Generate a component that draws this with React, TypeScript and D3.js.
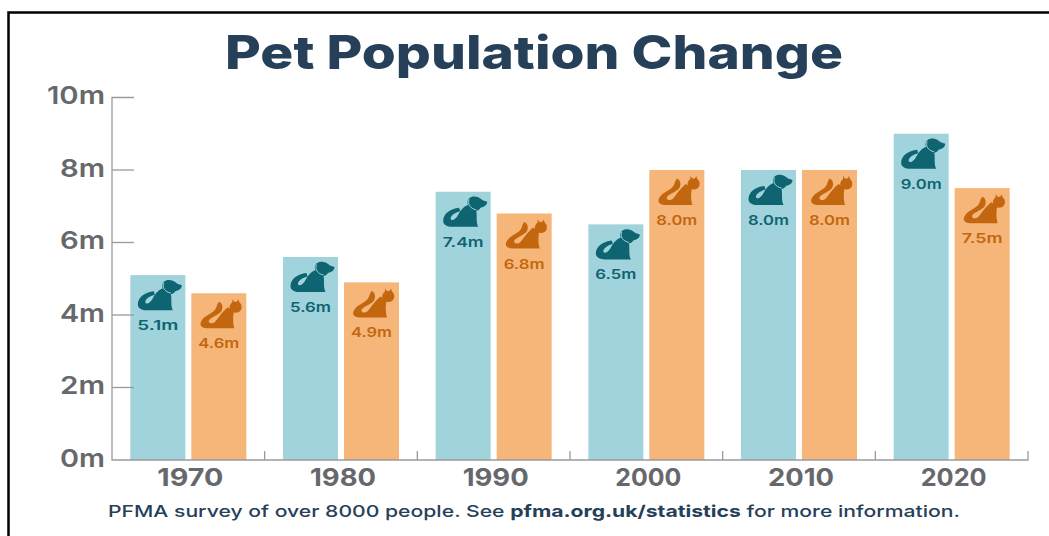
import React from "react";
import * as d3 from "d3";

const years = ["1970", "1980", "1990", "2000", "2010", "2020"];
const dogs = [5.1, 5.6, 7.4, 6.5, 8.0, 9.0];
const cats = [4.6, 4.9, 6.8, 8.0, 8.0, 7.5];
const yTicks = [0, 2, 4, 6, 8, 10];

const W = 1049, H = 536;
const x = d3.scaleBand<string>().domain(years).range([112, 1028]);
const y = d3.scaleLinear().domain([0, 10]).range([460, 97.5]);
const barW = 55, gap = 6;
const axisCol = "#9a9a9a", textCol = "#66686c", navy = "#264059";
const dogCol = "#0f6471", catCol = "#c2670f", dogBar = "#a0d3dc", catBar = "#f7b679";
const font = "Inter, 'Noto Sans', sans-serif";

const dogBody = "M-4 16 C-13 17 -20 22 -20 29 C-20 33 -16 35 -11 35 L15 35 L14 32.5 C13 28 14 23 13 18 L5 13 C0 15 -3 19 -5 23 C-7 27 -10 29 -12 28 C-14 26 -10 21 -3 19.5 Z";
const dogHead = "M4.5 12 C3.5 6 9 4 13 5 C16 5.5 18 7 19.5 8.5 L24 10 C24 13.5 21 15 17.5 16 C16 18.5 13 19.5 11 18.5 C8 17.5 5.5 15 4.5 12 Z";
const dogCollar = "M6 7.5 C4 12 7 17 13 18";
const catBody = "M0 8.5 C3 9.5 4.5 13 3 17 C1.5 21 -6 23 -9 26 C-11 28 -10 30 -7 30 C-5 30 -3 28 -1 25 C2 21 5 17 9 14 L15 18 C14 24 14 29 15 33 L15.5 35 L-12 35 C-18 35 -20 31 -17 27 C-14 22 -6 20 -3.5 16 C-2 13.5 -2 11 0 8.5 Z";
const catHead = "M13.5 6 L15.5 8.5 L18 8.5 L19.5 6 L20.5 9 C23.5 11 23.5 16.5 20.5 18.5 C17 20.5 12.5 19.5 11 16 C10 13 11.5 10.5 13.5 9 Z";

export default function App() {
  return (
    <svg width={W} height={H} style={{ position: "absolute", left: 0, top: 0, background: "#fff" }} fontFamily={font}>
      <path d={`M8.5 ${H}V12.5H${W}`} fill="none" stroke="#000" strokeWidth={2.5} />
      <text x={534} y={69} textAnchor="middle" fontSize={46} fontWeight={800} fill={navy} textLength={618} lengthAdjust="spacingAndGlyphs">Pet Population Change</text>

      {years.map((yr, i) => {
        const cx = x(yr)! + x.bandwidth() / 2;
        const dx = cx - gap / 2 - barW, cxx = cx + gap / 2;
        return (
          <g key={yr}>
            <rect x={dx} y={y(dogs[i])} width={barW} height={y(0) - y(dogs[i])} fill={dogBar} />
            <rect x={cxx} y={y(cats[i])} width={barW} height={y(0) - y(cats[i])} fill={catBar} />
            <g transform={`translate(${dx + barW / 2},${y(dogs[i])})`}>
              <path d={dogBody} fill={dogCol} />
              <path d={dogHead} fill={dogCol} />
              <path d={dogCollar} fill="none" stroke={dogBar} strokeWidth={1} />
            </g>
            <g transform={`translate(${cxx + barW / 2},${y(cats[i])})`}>
              <path d={catBody} fill={catCol} />
              <path d={catHead} fill={catCol} />
            </g>
            <text x={dx + barW / 2} y={y(dogs[i]) + 55} textAnchor="middle" fontSize={13.5} fontWeight={600} fill={dogCol} textLength={41} lengthAdjust="spacingAndGlyphs">{dogs[i].toFixed(1)}m</text>
            <text x={cxx + barW / 2} y={y(cats[i]) + 55} textAnchor="middle" fontSize={13.5} fontWeight={600} fill={catCol} textLength={41} lengthAdjust="spacingAndGlyphs">{cats[i].toFixed(1)}m</text>
            <text x={cx + 2} y={486} textAnchor="middle" fontSize={24.5} fontWeight={700} fill={textCol} textLength={66} lengthAdjust="spacingAndGlyphs">{yr}</text>
          </g>
        );
      })}

      <path d={`M134 ${y(10)}H112V460H1028V451`} fill="none" stroke={axisCol} strokeWidth={1.3} />
      {yTicks.slice(1, 5).map(t => (
        <line key={t} x1={112} x2={134} y1={y(t)} y2={y(t)} stroke={axisCol} strokeWidth={1.3} />
      ))}
      {years.slice(1).map(yr => (
        <line key={yr} x1={x(yr)} x2={x(yr)} y1={451} y2={460} stroke={axisCol} strokeWidth={1.3} />
      ))}
      {yTicks.map(t => (
        <text key={t} x={105} y={y(t) + 6.5} textAnchor="end" fontSize={24.5} fontWeight={600} fill={textCol} textLength={t === 10 ? 58 : 45} lengthAdjust="spacingAndGlyphs">{t}m</text>
      ))}

      <text x={534} y={516.5} textAnchor="middle" fontSize={16.5} fontWeight={500} fill={navy} textLength={852} lengthAdjust="spacingAndGlyphs">
        PFMA survey of over 8000 people. See <tspan fontWeight={700}>pfma.org.uk/statistics</tspan> for more information.
      </text>
    </svg>
  );
}
